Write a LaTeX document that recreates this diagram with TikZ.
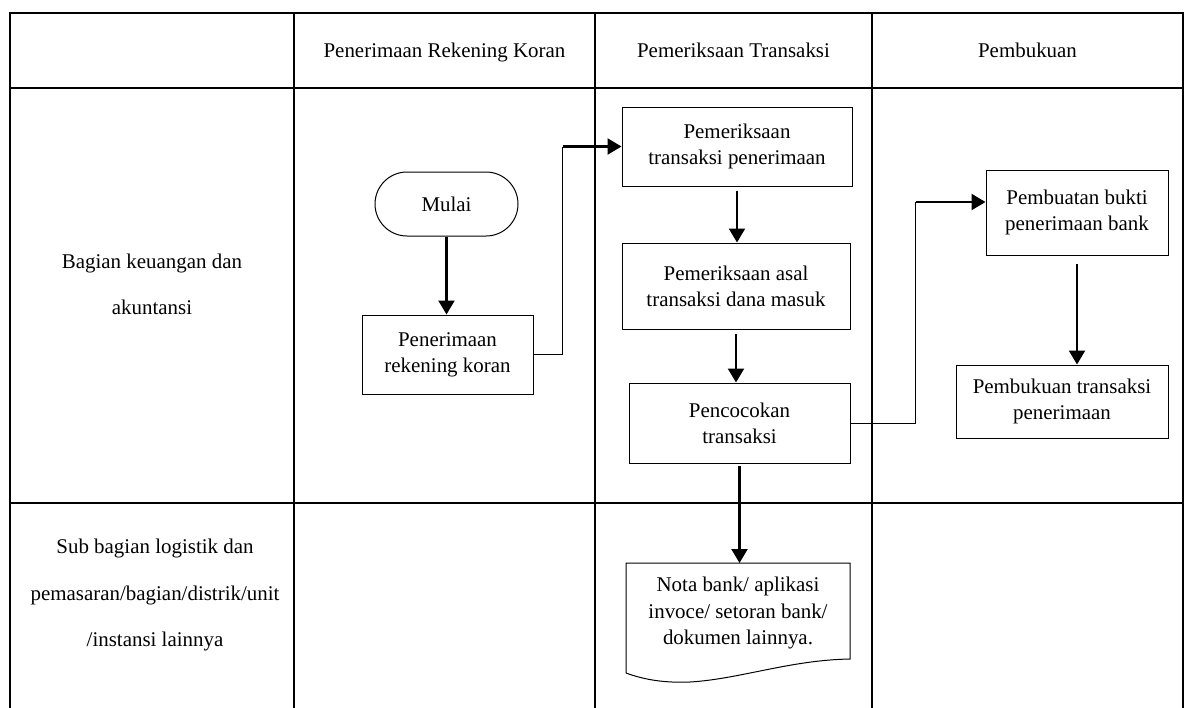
\documentclass[tikz,border=0pt]{standalone}
\usepackage{fontspec}
\setmainfont{Liberation Serif}
\usetikzlibrary{shapes.misc,arrows.meta,calc}
\begin{document}
\begin{tikzpicture}[x=0.75pt,y=-0.75pt,
  box/.style={draw, line width=0.75pt, align=center, inner sep=0pt, font=\fontsize{15.7}{19.5}\selectfont},
  grid/.style={line width=1.5pt},
  arr/.style={line width=1.7pt, -{Triangle[length=10.5pt,width=12pt]}},
  thinline/.style={line width=0.75pt},
  lbl/.style={align=center, font=\fontsize{15.7}{35}\selectfont},
  hdr/.style={anchor=base, font=\fontsize{15.7}{19}\selectfont}]
\clip (0,0) rectangle (1187,707);
% table
\draw[grid] (10,720) -- (10,13) -- (1183,13) -- (1183,720);
\draw[grid] (10,88) -- (1183,88);
\draw[grid] (10,503) -- (1183,503);
\draw[grid] (294,13) -- (294,720);
\draw[grid] (595,13) -- (595,720);
\draw[grid] (872,13) -- (872,720);
% headers
\node[hdr] (h1) at (444.5,57) {Penerimaan Rekening Koran};
\node[hdr] (h2) at (733.5,57) {Pemeriksaan Transaksi};
\node[hdr] (h3) at (1027.5,57) {Pembukuan};
\node[lbl] (r1) at (152,284.5) {Bagian keuangan dan\\akuntansi};
\node[lbl] (r2) at (155,595) {Sub bagian logistik dan\\pemasaran/bagian/distrik/unit\\/instansi lainnya};
% boxes
\node[box, rounded rectangle, minimum width=107.25pt, minimum height=48pt] (mulai) at (446.5,204) {Mulai};
\node[box, minimum width=128.25pt, minimum height=59.25pt] (pen) at (447.5,354.5) {Penerimaan\\rekening koran};
\node[box, minimum width=172.5pt, minimum height=59.25pt] (pem) at (737,146.5) {Pemeriksaan\\transaksi penerimaan};
\node[box, minimum width=171pt, minimum height=64.5pt] (asal) at (736,286) {Pemeriksaan asal\\transaksi dana masuk};
\node[box, minimum width=165.75pt, minimum height=60pt] (pcc) at (739.5,423) {Pencocokan\\transaksi};
\node[box, minimum width=136.5pt, minimum height=63.75pt] (bukti) at (1077,212.5) {Pembuatan bukti\\penerimaan bank};
\node[box, minimum width=159pt, minimum height=54.75pt] (trans) at (1062,401.5) {Pembukuan transaksi\\penerimaan};
% document shape
\coordinate (dnw) at (626,563);
\coordinate (dne) at (850,563);
\coordinate (dse) at (850,659);
\coordinate (dsw) at (626,673);
\draw[line width=0.75pt] (dsw) -- (dnw) -- (dne) -- (dse)
  .. controls (790,660) and (740,679) .. (690,682)
  .. controls (665,683) and (645,680) .. (dsw);
\node[align=center, inner sep=0pt, font=\fontsize{15.7}{20}\selectfont] (doc) at (738,613) {Nota bank/ aplikasi\\invoce/ setoran bank/\\dokumen lainnya.};
% connectors
\draw[arr] (mulai.south) -- (mulai.south |- pen.north);
\draw[thinline] (pen.east) -- ++(29,0) coordinate (c1) -- (c1 |- pem.west) coordinate (c2);
\draw[arr] (c2) -- (pem.west);
\draw[arr, shorten <=3pt] (pem.south) -- (pem.south |- asal.north);
\draw[arr, shorten <=3pt] (asal.south) -- (asal.south |- pcc.north);
\draw[arr, shorten <=1.5pt] (pcc.south) -- (pcc.south |- dnw);
\coordinate (t2) at ($(bukti.west)+(0,-10.5)$);
\draw[thinline] (pcc.east) -- ++(65,0) coordinate (c3) -- (c3 |- t2) coordinate (c4);
\draw[arr] (c4) -- (t2);
\draw[arr, shorten <=6pt] (bukti.south) -- (bukti.south |- trans.north);
\end{tikzpicture}
\end{document}
